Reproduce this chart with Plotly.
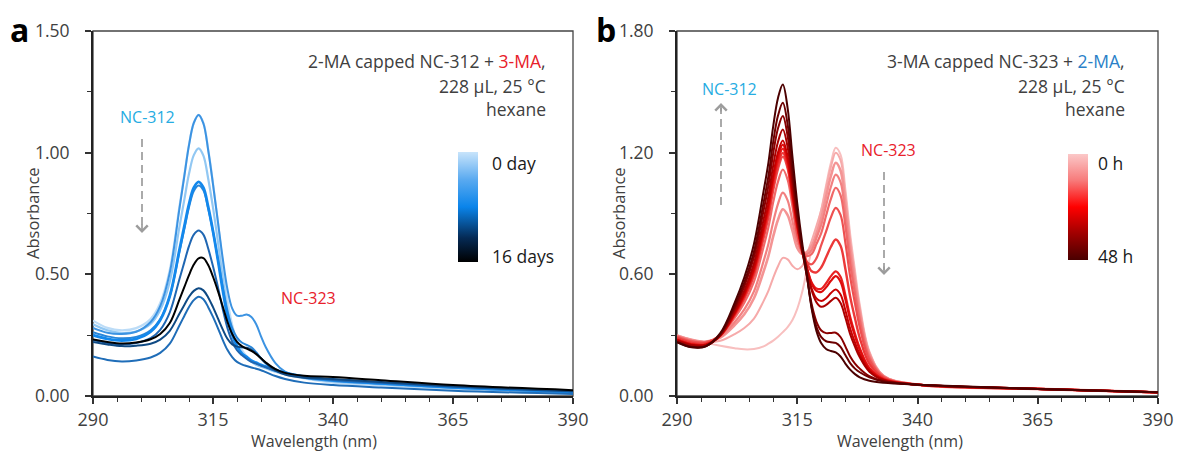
import plotly.graph_objects as go

W, H = 1178, 452
def px(x): return x / W
def py(y): return 1 - y / H

FONT = "Open Sans"
TXT = "#404040"

# ---------------- Panel a data (2-MA capped NC-312 + 3-MA) ----------------
wl_a = [290, 293, 296, 299, 302, 304, 306, 308, 309, 310, 311, 312, 313, 314, 315, 316, 317,
        318, 319, 320, 321, 322, 323, 324, 325, 326, 328, 330, 334, 340, 350, 365, 390]
a_c1 = [0.310, 0.280, 0.270, 0.279, 0.316, 0.382, 0.519, 0.778, 0.905, 1.033, 1.122, 1.155, 1.122, 1.013, 0.875, 0.719, 0.549,
        0.397, 0.292, 0.226, 0.190, 0.163, 0.147, 0.134, 0.126, 0.118, 0.104, 0.090, 0.072, 0.055, 0.045, 0.030, 0.012]
a_c2 = [0.295, 0.270, 0.259, 0.265, 0.296, 0.353, 0.470, 0.694, 0.804, 0.913, 0.990, 1.018, 0.988, 0.893, 0.774, 0.638, 0.489,
        0.356, 0.265, 0.207, 0.178, 0.155, 0.140, 0.128, 0.120, 0.114, 0.100, 0.090, 0.075, 0.060, 0.048, 0.032, 0.013]
a_c3 = [0.280, 0.260, 0.255, 0.264, 0.304, 0.369, 0.507, 0.769, 0.900, 1.031, 1.122, 1.155, 1.120, 1.010, 0.870, 0.720, 0.570,
        0.440, 0.360, 0.330, 0.330, 0.335, 0.325, 0.295, 0.245, 0.200, 0.135, 0.100, 0.075, 0.062, 0.050, 0.034, 0.015]
a_c4 = [0.262, 0.245, 0.237, 0.243, 0.270, 0.315, 0.410, 0.592, 0.684, 0.776, 0.842, 0.865, 0.845, 0.770, 0.675, 0.565, 0.450,
        0.350, 0.280, 0.240, 0.220, 0.210, 0.200, 0.180, 0.155, 0.135, 0.110, 0.096, 0.080, 0.066, 0.053, 0.037, 0.017]
a_c5 = [0.250, 0.235, 0.228, 0.235, 0.264, 0.312, 0.411, 0.600, 0.695, 0.789, 0.856, 0.880, 0.856, 0.777, 0.677, 0.562, 0.439,
        0.329, 0.253, 0.205, 0.175, 0.161, 0.145, 0.137, 0.128, 0.121, 0.105, 0.095, 0.080, 0.065, 0.052, 0.036, 0.016]
a_c6 = [0.230, 0.218, 0.213, 0.218, 0.238, 0.272, 0.344, 0.480, 0.548, 0.616, 0.663, 0.680, 0.663, 0.606, 0.533, 0.450, 0.360,
        0.280, 0.224, 0.188, 0.168, 0.153, 0.140, 0.133, 0.125, 0.118, 0.104, 0.094, 0.080, 0.066, 0.054, 0.038, 0.018]
a_c7 = [0.162, 0.148, 0.142, 0.146, 0.158, 0.177, 0.215, 0.290, 0.328, 0.366, 0.394, 0.408, 0.398, 0.365, 0.325, 0.280, 0.232,
        0.190, 0.160, 0.140, 0.130, 0.123, 0.117, 0.112, 0.106, 0.098, 0.082, 0.070, 0.055, 0.045, 0.035, 0.022, 0.008]
a_c8 = [0.222, 0.212, 0.205, 0.207, 0.215, 0.232, 0.268, 0.338, 0.373, 0.408, 0.432, 0.443, 0.434, 0.405, 0.365, 0.320, 0.275,
        0.235, 0.212, 0.203, 0.200, 0.198, 0.190, 0.175, 0.155, 0.135, 0.105, 0.088, 0.075, 0.070, 0.058, 0.040, 0.020]
a_c9 = [0.232, 0.222, 0.216, 0.220, 0.233, 0.255, 0.300, 0.396, 0.446, 0.497, 0.540, 0.566, 0.567, 0.538, 0.490, 0.433, 0.370,
        0.305, 0.255, 0.222, 0.205, 0.195, 0.185, 0.172, 0.155, 0.138, 0.110, 0.095, 0.083, 0.078, 0.065, 0.045, 0.024]

series_a = [
    (a_c1, "#bcdcf7", 2.2),
    (a_c2, "#92c8f3", 2.2),
    (a_c3, "#3c93e2", 2.0),
    (a_c4, "#2a86d8", 2.0),
    (a_c5, "#1388ec", 2.8),
    (a_c6, "#1f66b2", 2.0),
    (a_c7, "#1f6db8", 2.0),
    (a_c8, "#0f4a84", 2.0),
    (a_c9, "#000000", 2.0),
]

# ---------------- Panel b data (3-MA capped NC-323 + 2-MA) ----------------
wl_b = [290, 293, 296, 299, 302, 304, 306, 308, 309, 310, 311, 312, 313, 314, 315, 316, 317,
        318, 319, 320, 321, 322, 323, 324, 325, 326, 327, 328, 330, 333, 340, 365, 390]
b_t0 = [0.295, 0.278, 0.262, 0.248, 0.236, 0.230, 0.232, 0.245, 0.258, 0.273, 0.292, 0.315, 0.340, 0.375, 0.430, 0.510, 0.620,
        0.720, 0.820, 0.920, 1.040, 1.150, 1.224, 1.190, 1.020, 0.800, 0.620, 0.450, 0.220, 0.100, 0.058, 0.033, 0.018]
b_t1 = [0.298, 0.278, 0.266, 0.272, 0.305, 0.335, 0.382, 0.468, 0.518, 0.583, 0.640, 0.681, 0.674, 0.642, 0.625, 0.640, 0.700,
        0.765, 0.839, 0.918, 1.027, 1.130, 1.200, 1.163, 0.993, 0.775, 0.599, 0.436, 0.215, 0.099, 0.056, 0.035, 0.018]
b_t2 = [0.298, 0.277, 0.268, 0.288, 0.350, 0.403, 0.482, 0.614, 0.690, 0.787, 0.869, 0.921, 0.892, 0.815, 0.730, 0.700, 0.710,
        0.740, 0.800, 0.880, 0.985, 1.085, 1.150, 1.112, 0.946, 0.736, 0.569, 0.415, 0.207, 0.097, 0.056, 0.035, 0.018]
b_t3 = [0.296, 0.274, 0.267, 0.292, 0.365, 0.427, 0.516, 0.665, 0.750, 0.858, 0.948, 1.003, 0.965, 0.862, 0.760, 0.710, 0.700,
        0.720, 0.780, 0.845, 0.940, 1.032, 1.092, 1.055, 0.896, 0.698, 0.539, 0.395, 0.199, 0.096, 0.056, 0.035, 0.018]
b_t4 = [0.295, 0.272, 0.266, 0.299, 0.386, 0.460, 0.564, 0.736, 0.832, 0.956, 1.057, 1.117, 1.067, 0.935, 0.790, 0.720, 0.690,
        0.700, 0.750, 0.805, 0.890, 0.972, 1.027, 0.990, 0.840, 0.653, 0.505, 0.372, 0.190, 0.094, 0.056, 0.035, 0.018]
b_t5 = [0.291, 0.268, 0.264, 0.301, 0.397, 0.479, 0.592, 0.777, 0.880, 1.012, 1.119, 1.180, 1.121, 0.970, 0.800, 0.710, 0.660,
        0.650, 0.680, 0.745, 0.812, 0.881, 0.928, 0.893, 0.757, 0.589, 0.457, 0.338, 0.177, 0.091, 0.056, 0.035, 0.018]
b_t6 = [0.285, 0.262, 0.259, 0.299, 0.400, 0.485, 0.602, 0.792, 0.897, 1.032, 1.140, 1.199, 1.133, 0.975, 0.830, 0.730, 0.660,
        0.615, 0.610, 0.635, 0.684, 0.736, 0.772, 0.741, 0.628, 0.490, 0.383, 0.287, 0.158, 0.086, 0.056, 0.035, 0.018]
b_t7 = [0.279, 0.256, 0.254, 0.297, 0.403, 0.493, 0.614, 0.809, 0.916, 1.053, 1.162, 1.220, 1.146, 0.985, 0.835, 0.715, 0.630,
        0.560, 0.530, 0.529, 0.556, 0.591, 0.615, 0.588, 0.498, 0.391, 0.308, 0.236, 0.138, 0.082, 0.056, 0.035, 0.018]
b_t8 = [0.278, 0.255, 0.254, 0.298, 0.407, 0.499, 0.622, 0.821, 0.930, 1.071, 1.182, 1.240, 1.163, 0.997, 0.846, 0.725, 0.635,
        0.555, 0.518, 0.513, 0.536, 0.568, 0.591, 0.564, 0.477, 0.375, 0.296, 0.228, 0.134, 0.081, 0.056, 0.035, 0.018]
b_t9 = [0.275, 0.252, 0.252, 0.298, 0.410, 0.505, 0.632, 0.835, 0.946, 1.090, 1.202, 1.260, 1.180, 1.006, 0.847, 0.720, 0.625,
        0.530, 0.481, 0.468, 0.482, 0.508, 0.525, 0.500, 0.423, 0.333, 0.264, 0.206, 0.126, 0.079, 0.056, 0.035, 0.018]
b_t10 = [0.274, 0.251, 0.251, 0.301, 0.420, 0.520, 0.655, 0.869, 0.985, 1.136, 1.254, 1.314, 1.227, 1.041, 0.870, 0.736, 0.630,
         0.520, 0.462, 0.440, 0.449, 0.469, 0.484, 0.459, 0.387, 0.305, 0.243, 0.191, 0.120, 0.078, 0.056, 0.035, 0.018]
b_t11 = [0.268, 0.244, 0.246, 0.301, 0.432, 0.541, 0.685, 0.914, 1.037, 1.196, 1.320, 1.381, 1.282, 1.074, 0.878, 0.720, 0.591,
         0.452, 0.366, 0.323, 0.310, 0.311, 0.312, 0.291, 0.245, 0.195, 0.160, 0.135, 0.098, 0.073, 0.056, 0.035, 0.018]
b_t12 = [0.266, 0.242, 0.246, 0.305, 0.444, 0.560, 0.712, 0.954, 1.084, 1.253, 1.383, 1.446, 1.339, 1.118, 0.907, 0.734, 0.591,
         0.438, 0.341, 0.290, 0.270, 0.265, 0.262, 0.242, 0.202, 0.162, 0.135, 0.117, 0.092, 0.072, 0.056, 0.035, 0.018]
b_t13 = [0.265, 0.240, 0.245, 0.310, 0.460, 0.585, 0.750, 1.010, 1.150, 1.330, 1.470, 1.536, 1.420, 1.180, 0.950, 0.760, 0.600,
         0.430, 0.320, 0.260, 0.232, 0.222, 0.215, 0.195, 0.160, 0.130, 0.108, 0.092, 0.075, 0.065, 0.056, 0.035, 0.018]

series_b = [
    (b_t0, "#f8bfbf", 2.0), (b_t1, "#f6aaaa", 2.0), (b_t2, "#f49494", 2.6), (b_t3, "#f28080", 2.2),
    (b_t4, "#f06868", 2.2), (b_t5, "#ee5050", 2.2), (b_t6, "#ec3838", 2.4), (b_t7, "#e82020", 2.2),
    (b_t8, "#de0c0c", 2.2), (b_t9, "#c80000", 2.0), (b_t10, "#aa0000", 2.0), (b_t11, "#8a0000", 2.0),
    (b_t12, "#6c0000", 2.0), (b_t13, "#4c0000", 2.0),
]

xticks = [290, 315, 340, 365, 390]
yticks_a = [0.0, 0.5, 1.0, 1.5]
yticks_b = [0.0, 0.6, 1.2, 1.8]

fig = go.Figure()
for vals, col, w in series_a:
    fig.add_trace(go.Scatter(x=wl_a, y=vals, mode="lines", line=dict(color=col, width=w, shape="spline"),
                             xaxis="x", yaxis="y", showlegend=False, hoverinfo="skip"))
for vals, col, w in series_b:
    fig.add_trace(go.Scatter(x=wl_b, y=vals, mode="lines", line=dict(color=col, width=w, shape="spline"),
                             xaxis="x2", yaxis="y2", showlegend=False, hoverinfo="skip"))

# colorbars (hidden marker outside range)
cs_a = [[0, "#000000"], [0.22, "#052a55"], [0.5, "#0a84ea"], [0.75, "#5aaaf0"], [1, "#c8e4fb"]]
cs_b = [[0, "#4a0000"], [0.25, "#a00000"], [0.5, "#ff0000"], [0.75, "#f77a7a"], [1, "#fbc8c8"]]
for xa, ya, cs, cx, cy0, cy1 in [("x", "y", cs_a, 458, 152, 262), ("x2", "y2", cs_b, 1068, 154, 260)]:
    fig.add_trace(go.Scatter(x=[300], y=[-5], mode="markers", xaxis=xa, yaxis=ya, showlegend=False,
                             hoverinfo="skip",
                             marker=dict(color=[0], colorscale=cs, cmin=0, cmax=1, opacity=0, showscale=True,
                                         colorbar=dict(x=px(cx), xanchor="left", y=py(cy0), yanchor="top",
                                                       xref="container", yref="container",
                                                       len=(cy1 - cy0) / H, lenmode="fraction", thickness=20,
                                                       thicknessmode="pixels", outlinewidth=0, showticklabels=False,
                                                       ticks="", xpad=0, ypad=0))))

ydom = [py(396), py(31)]
common_x = dict(range=[290, 390], tickvals=xticks, ticks="outside", ticklen=6, tickwidth=1.5, tickcolor="#333",
                showline=True, linewidth=2, linecolor="#222", showgrid=False, zeroline=False, automargin=False,
                tickfont=dict(family=FONT, size=18, color=TXT), ticklabelstandoff=0,
                minor=dict(dtick=5, tick0=290, ticks="outside", ticklen=4, tickwidth=1.2, tickcolor="#333"))
common_y = dict(ticks="outside", ticklen=6, tickwidth=1.5, tickcolor="#333", tickformat=".2f",
                showline=True, linewidth=2, linecolor="#222", showgrid=False, zeroline=False, automargin=False,
                tickfont=dict(family=FONT, size=17.5, color=TXT), ticklabelstandoff=12, domain=ydom)
inside_x = dict(range=[290, 390], tickvals=xticks, ticks="inside", ticklen=7, tickwidth=1.5, tickcolor="#333",
                showticklabels=False, showline=False, showgrid=False, zeroline=False, automargin=False)

fig.update_layout(
    width=W, height=H, margin=dict(l=0, r=0, t=0, b=0, pad=0, autoexpand=False),
    paper_bgcolor="white", plot_bgcolor="white",
    xaxis=dict(domain=[px(93), px(573)], anchor="y", **common_x),
    yaxis=dict(range=[0, 1.5], tickvals=yticks_a, anchor="x",
               minor=dict(dtick=0.25, ticks="outside", ticklen=4, tickwidth=1.2, tickcolor="#333"), **common_y),
    xaxis2=dict(domain=[px(677), px(1158)], anchor="y2", **common_x),
    yaxis2=dict(range=[0, 1.8], tickvals=yticks_b, anchor="x2",
                minor=dict(dtick=0.3, ticks="outside", ticklen=4, tickwidth=1.2, tickcolor="#333"), **common_y),
    xaxis3=dict(overlaying="x", anchor="y", **inside_x),
    xaxis4=dict(overlaying="x2", anchor="y2", **inside_x),
    showlegend=False,
)

shapes = []
for xr, yr in [("x domain", "y domain"), ("x2 domain", "y2 domain")]:
    shapes.append(dict(type="rect", xref=xr, yref=yr, x0=0, x1=1, y0=0, y1=1,
                       line=dict(color="#444", width=1.3), layer="below"))
ARROW = "#9c9c9c"
for x, y0, y1 in [(142, 139, 228), (721, 205, 108), (884, 172, 270)]:
    shapes.append(dict(type="line", xref="paper", yref="paper", x0=px(x), x1=px(x), y0=py(y0), y1=py(y1),
                       line=dict(color=ARROW, width=1.7, dash="8px,5px")))
fig.update_layout(shapes=shapes)

ann = []
def text(x, y, s, size=17.5, color=TXT, xanchor="center", bold=False, angle=0):
    ann.append(dict(x=px(x), y=py(y), xref="paper", yref="paper", text=("<b>%s</b>" % s) if bold else s,
                    showarrow=False, xanchor=xanchor, yanchor="middle", textangle=angle,
                    font=dict(family=FONT, size=size, color=color)))

RED = "#e8202a"
BLUE2 = "#2a7fc8"
CYAN = "#26ace2"
# panel letters
text(19, 30, "a", size=32, color="#000", bold=True)
text(606, 30, "b", size=32, color="#000", bold=True)
# axis titles
text(314, 441, "Wavelength (nm)", size=16)
text(900, 441, "Wavelength (nm)", size=16)
text(32, 213, "Absorbance", size=16.5, angle=-90)
text(618, 213, "Absorbance", size=16.5, angle=-90)
# condition text
text(548, 61, "2-MA capped NC-312 + <span style='color:%s'>3-MA</span>," % RED, xanchor="right")
text(548, 86, "228 μL, 25 °C", xanchor="right")
text(548, 109, "hexane", xanchor="right")
text(1127, 61, "3-MA capped NC-323 + <span style='color:%s'>2-MA</span>," % BLUE2, xanchor="right")
text(1127, 86, "228 μL, 25 °C", xanchor="right")
text(1127, 109, "hexane", xanchor="right")
# species labels
text(147, 117, "NC-312", size=16, color=CYAN)
text(308, 298, "NC-323", size=16, color=RED)
text(729, 89, "NC-312", size=16, color=CYAN)
text(888, 150, "NC-323", size=16, color=RED)
# colorbar labels
text(490, 163, "0 day", color="#1a1a1a", xanchor="left")
text(490, 256, "16 days", color="#1a1a1a", xanchor="left")
text(1096, 163, "0 h", color="#1a1a1a", xanchor="left")
text(1096, 256, "48 h", color="#1a1a1a", xanchor="left")
# arrow heads
for x, y, ay in [(142, 233, -10), (721, 103, 10), (884, 275, -10)]:
    ann.append(dict(x=px(x), y=py(y), xref="paper", yref="paper", text="", showarrow=True, ax=0, ay=ay,
                    arrowhead=4, arrowsize=1.3, arrowwidth=1.7, arrowcolor=ARROW))
fig.update_layout(annotations=ann)

fig.write_html("out.html")
